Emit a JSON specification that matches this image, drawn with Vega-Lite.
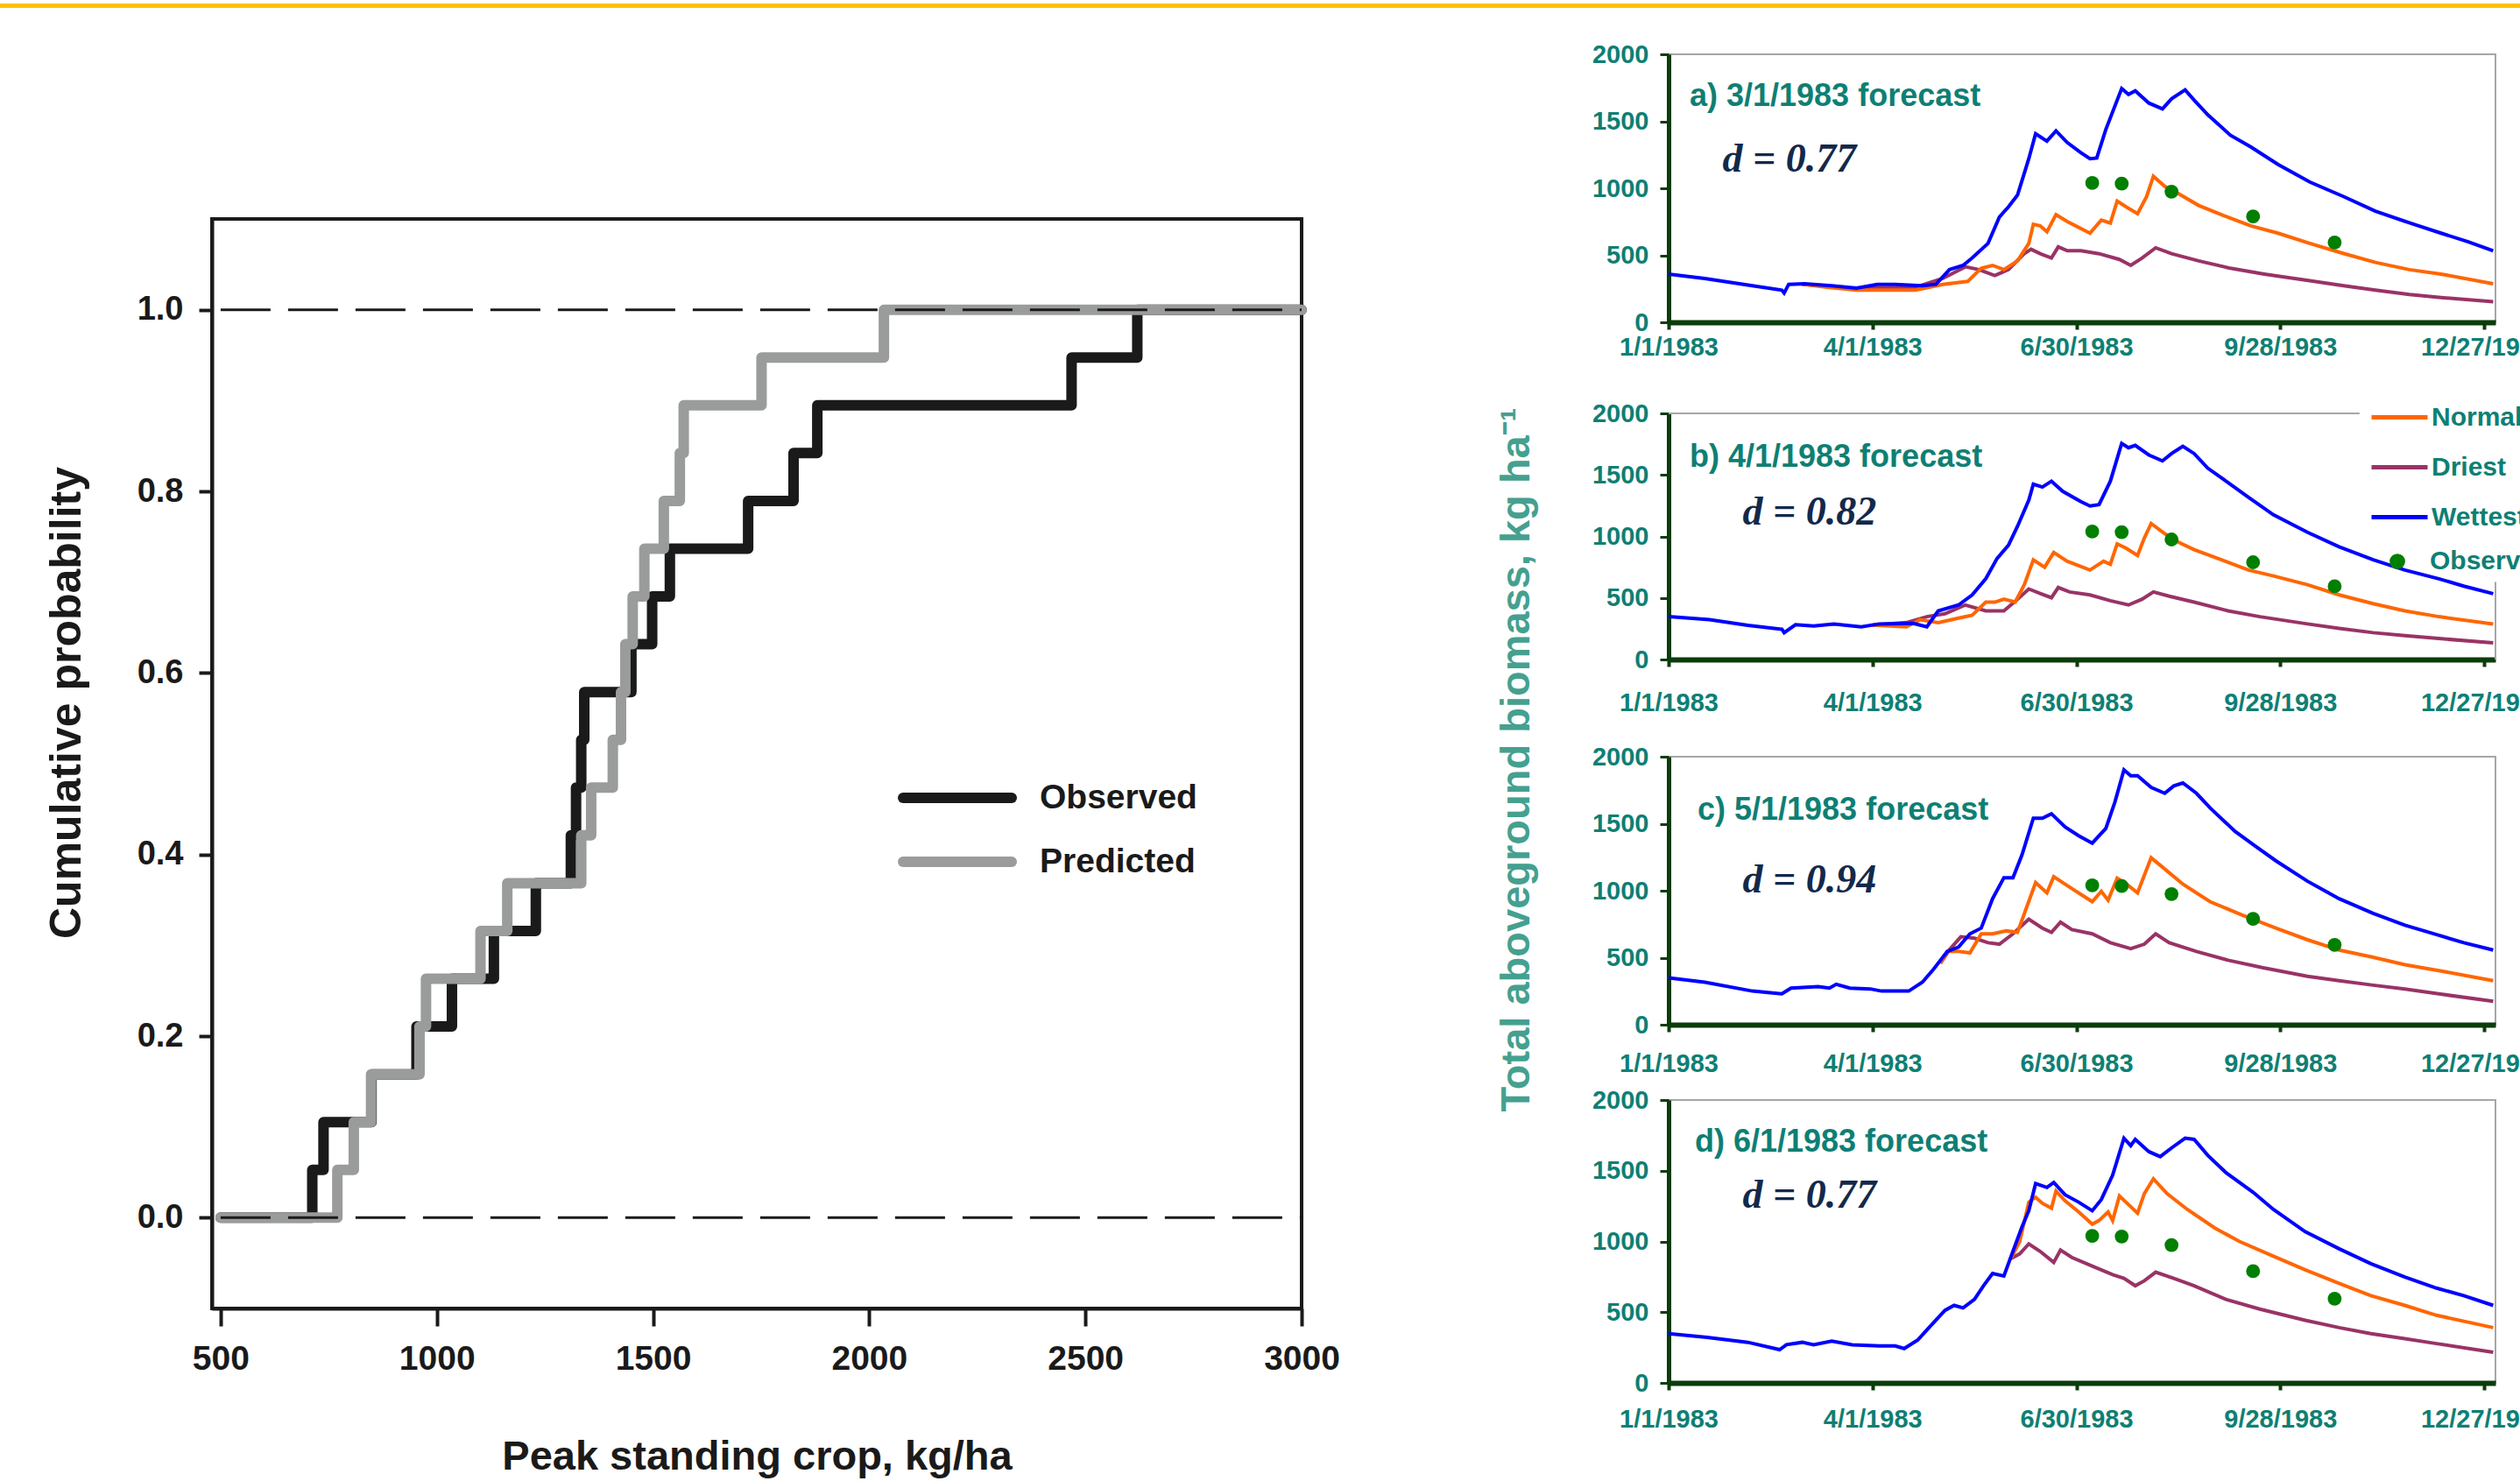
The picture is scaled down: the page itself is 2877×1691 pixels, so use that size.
{
  "$schema": "https://vega.github.io/schema/vega-lite/v6.json",
  "padding": 0,
  "background": "white",
  "config": {
    "view": {"stroke": null},
    "font": "Liberation Sans",
    "axis": {"grid": false}
  },
  "datasets": {
    "cdf": [
      {"series":"Observed","crop":500,"prob":0},
      {"series":"Observed","crop":712,"prob":0.0526},
      {"series":"Observed","crop":738,"prob":0.1053},
      {"series":"Observed","crop":849,"prob":0.1579},
      {"series":"Observed","crop":953,"prob":0.2105},
      {"series":"Observed","crop":1035,"prob":0.2632},
      {"series":"Observed","crop":1132,"prob":0.3158},
      {"series":"Observed","crop":1229,"prob":0.3684},
      {"series":"Observed","crop":1310,"prob":0.4211},
      {"series":"Observed","crop":1322,"prob":0.4737},
      {"series":"Observed","crop":1334,"prob":0.5263},
      {"series":"Observed","crop":1341,"prob":0.5789},
      {"series":"Observed","crop":1450,"prob":0.6316},
      {"series":"Observed","crop":1498,"prob":0.6842},
      {"series":"Observed","crop":1539,"prob":0.7368},
      {"series":"Observed","crop":1720,"prob":0.7895},
      {"series":"Observed","crop":1825,"prob":0.8421},
      {"series":"Observed","crop":1880,"prob":0.8947},
      {"series":"Observed","crop":2468,"prob":0.9474},
      {"series":"Observed","crop":2620,"prob":1},
      {"series":"Observed","crop":3000,"prob":1},
      {"series":"Predicted","crop":500,"prob":0},
      {"series":"Predicted","crop":770,"prob":0.0526},
      {"series":"Predicted","crop":808,"prob":0.1053},
      {"series":"Predicted","crop":848,"prob":0.1579},
      {"series":"Predicted","crop":960,"prob":0.2105},
      {"series":"Predicted","crop":975,"prob":0.2632},
      {"series":"Predicted","crop":1101,"prob":0.3158},
      {"series":"Predicted","crop":1163,"prob":0.3684},
      {"series":"Predicted","crop":1334,"prob":0.4211},
      {"series":"Predicted","crop":1357,"prob":0.4737},
      {"series":"Predicted","crop":1407,"prob":0.5263},
      {"series":"Predicted","crop":1426,"prob":0.5789},
      {"series":"Predicted","crop":1436,"prob":0.6316},
      {"series":"Predicted","crop":1453,"prob":0.6842},
      {"series":"Predicted","crop":1480,"prob":0.7368},
      {"series":"Predicted","crop":1525,"prob":0.7895},
      {"series":"Predicted","crop":1562,"prob":0.8421},
      {"series":"Predicted","crop":1571,"prob":0.8947},
      {"series":"Predicted","crop":1751,"prob":0.9474},
      {"series":"Predicted","crop":2034,"prob":1},
      {"series":"Predicted","crop":3000,"prob":1}
    ],
    "observed": [
      {"label":"Observed","day":187,"biomass":1040},
      {"label":"Observed","day":200,"biomass":1035},
      {"label":"Observed","day":222,"biomass":975},
      {"label":"Observed","day":258,"biomass":790},
      {"label":"Observed","day":294,"biomass":595}
    ],
    "curves": [
      {"panel":"a","series":"Driest","day":59,"biomass":285},
      {"panel":"a","series":"Driest","day":80,"biomass":255},
      {"panel":"a","series":"Driest","day":109,"biomass":262},
      {"panel":"a","series":"Driest","day":121,"biomass":327},
      {"panel":"a","series":"Driest","day":131,"biomass":414},
      {"panel":"a","series":"Driest","day":137,"biomass":393},
      {"panel":"a","series":"Driest","day":144,"biomass":349},
      {"panel":"a","series":"Driest","day":150,"biomass":393},
      {"panel":"a","series":"Driest","day":157,"biomass":512},
      {"panel":"a","series":"Driest","day":160,"biomass":545},
      {"panel":"a","series":"Driest","day":164,"biomass":512},
      {"panel":"a","series":"Driest","day":169,"biomass":480},
      {"panel":"a","series":"Driest","day":172,"biomass":563},
      {"panel":"a","series":"Driest","day":176,"biomass":534},
      {"panel":"a","series":"Driest","day":182,"biomass":534},
      {"panel":"a","series":"Driest","day":190,"biomass":512},
      {"panel":"a","series":"Driest","day":199,"biomass":469},
      {"panel":"a","series":"Driest","day":204,"biomass":425},
      {"panel":"a","series":"Driest","day":209,"biomass":480},
      {"panel":"a","series":"Driest","day":215,"biomass":556},
      {"panel":"a","series":"Driest","day":222,"biomass":512},
      {"panel":"a","series":"Driest","day":234,"biomass":458},
      {"panel":"a","series":"Driest","day":248,"biomass":403},
      {"panel":"a","series":"Driest","day":263,"biomass":360},
      {"panel":"a","series":"Driest","day":283,"biomass":310},
      {"panel":"a","series":"Driest","day":298,"biomass":273},
      {"panel":"a","series":"Driest","day":312,"biomass":240},
      {"panel":"a","series":"Driest","day":327,"biomass":207},
      {"panel":"a","series":"Driest","day":341,"biomass":185},
      {"panel":"a","series":"Driest","day":364,"biomass":153},
      {"panel":"a","series":"Normal","day":59,"biomass":285},
      {"panel":"a","series":"Normal","day":70,"biomass":262},
      {"panel":"a","series":"Normal","day":83,"biomass":240},
      {"panel":"a","series":"Normal","day":109,"biomass":240},
      {"panel":"a","series":"Normal","day":121,"biomass":283},
      {"panel":"a","series":"Normal","day":132,"biomass":305},
      {"panel":"a","series":"Normal","day":138,"biomass":403},
      {"panel":"a","series":"Normal","day":143,"biomass":425},
      {"panel":"a","series":"Normal","day":148,"biomass":393},
      {"panel":"a","series":"Normal","day":154,"biomass":458},
      {"panel":"a","series":"Normal","day":159,"biomass":589},
      {"panel":"a","series":"Normal","day":161,"biomass":731},
      {"panel":"a","series":"Normal","day":164,"biomass":720},
      {"panel":"a","series":"Normal","day":167,"biomass":676},
      {"panel":"a","series":"Normal","day":171,"biomass":803},
      {"panel":"a","series":"Normal","day":176,"biomass":752},
      {"panel":"a","series":"Normal","day":186,"biomass":665},
      {"panel":"a","series":"Normal","day":191,"biomass":763},
      {"panel":"a","series":"Normal","day":195,"biomass":741},
      {"panel":"a","series":"Normal","day":198,"biomass":905},
      {"panel":"a","series":"Normal","day":202,"biomass":861},
      {"panel":"a","series":"Normal","day":207,"biomass":811},
      {"panel":"a","series":"Normal","day":211,"biomass":938},
      {"panel":"a","series":"Normal","day":214,"biomass":1090},
      {"panel":"a","series":"Normal","day":219,"biomass":1014},
      {"panel":"a","series":"Normal","day":224,"biomass":970},
      {"panel":"a","series":"Normal","day":234,"biomass":872},
      {"panel":"a","series":"Normal","day":245,"biomass":796},
      {"panel":"a","series":"Normal","day":257,"biomass":720},
      {"panel":"a","series":"Normal","day":269,"biomass":665},
      {"panel":"a","series":"Normal","day":283,"biomass":589},
      {"panel":"a","series":"Normal","day":298,"biomass":513},
      {"panel":"a","series":"Normal","day":312,"biomass":447},
      {"panel":"a","series":"Normal","day":327,"biomass":393},
      {"panel":"a","series":"Normal","day":341,"biomass":360},
      {"panel":"a","series":"Normal","day":364,"biomass":288},
      {"panel":"a","series":"Wettest","day":0,"biomass":360},
      {"panel":"a","series":"Wettest","day":16,"biomass":327},
      {"panel":"a","series":"Wettest","day":37,"biomass":273},
      {"panel":"a","series":"Wettest","day":50,"biomass":240},
      {"panel":"a","series":"Wettest","day":51,"biomass":218},
      {"panel":"a","series":"Wettest","day":53,"biomass":283},
      {"panel":"a","series":"Wettest","day":60,"biomass":288},
      {"panel":"a","series":"Wettest","day":72,"biomass":273},
      {"panel":"a","series":"Wettest","day":83,"biomass":255},
      {"panel":"a","series":"Wettest","day":92,"biomass":283},
      {"panel":"a","series":"Wettest","day":100,"biomass":283},
      {"panel":"a","series":"Wettest","day":112,"biomass":273},
      {"panel":"a","series":"Wettest","day":118,"biomass":283},
      {"panel":"a","series":"Wettest","day":124,"biomass":393},
      {"panel":"a","series":"Wettest","day":130,"biomass":425},
      {"panel":"a","series":"Wettest","day":134,"biomass":480},
      {"panel":"a","series":"Wettest","day":141,"biomass":589},
      {"panel":"a","series":"Wettest","day":146,"biomass":785},
      {"panel":"a","series":"Wettest","day":150,"biomass":861},
      {"panel":"a","series":"Wettest","day":154,"biomass":949},
      {"panel":"a","series":"Wettest","day":159,"biomass":1221},
      {"panel":"a","series":"Wettest","day":162,"biomass":1407},
      {"panel":"a","series":"Wettest","day":167,"biomass":1352},
      {"panel":"a","series":"Wettest","day":171,"biomass":1429},
      {"panel":"a","series":"Wettest","day":176,"biomass":1341},
      {"panel":"a","series":"Wettest","day":182,"biomass":1265},
      {"panel":"a","series":"Wettest","day":186,"biomass":1221},
      {"panel":"a","series":"Wettest","day":189,"biomass":1226},
      {"panel":"a","series":"Wettest","day":193,"biomass":1439},
      {"panel":"a","series":"Wettest","day":200,"biomass":1745},
      {"panel":"a","series":"Wettest","day":203,"biomass":1701},
      {"panel":"a","series":"Wettest","day":206,"biomass":1727},
      {"panel":"a","series":"Wettest","day":212,"biomass":1636},
      {"panel":"a","series":"Wettest","day":218,"biomass":1592},
      {"panel":"a","series":"Wettest","day":222,"biomass":1668},
      {"panel":"a","series":"Wettest","day":228,"biomass":1734},
      {"panel":"a","series":"Wettest","day":232,"biomass":1658},
      {"panel":"a","series":"Wettest","day":238,"biomass":1549},
      {"panel":"a","series":"Wettest","day":248,"biomass":1396},
      {"panel":"a","series":"Wettest","day":257,"biomass":1309},
      {"panel":"a","series":"Wettest","day":269,"biomass":1178},
      {"panel":"a","series":"Wettest","day":283,"biomass":1047},
      {"panel":"a","series":"Wettest","day":298,"biomass":938},
      {"panel":"a","series":"Wettest","day":312,"biomass":829},
      {"panel":"a","series":"Wettest","day":327,"biomass":742},
      {"panel":"a","series":"Wettest","day":341,"biomass":665},
      {"panel":"a","series":"Wettest","day":353,"biomass":600},
      {"panel":"a","series":"Wettest","day":364,"biomass":534},
      {"panel":"b","series":"Driest","day":90,"biomass":280},
      {"panel":"b","series":"Driest","day":105,"biomass":300},
      {"panel":"b","series":"Driest","day":114,"biomass":348},
      {"panel":"b","series":"Driest","day":122,"biomass":372},
      {"panel":"b","series":"Driest","day":131,"biomass":443},
      {"panel":"b","series":"Driest","day":140,"biomass":395},
      {"panel":"b","series":"Driest","day":148,"biomass":395},
      {"panel":"b","series":"Driest","day":154,"biomass":490},
      {"panel":"b","series":"Driest","day":159,"biomass":573},
      {"panel":"b","series":"Driest","day":164,"biomass":537},
      {"panel":"b","series":"Driest","day":169,"biomass":502},
      {"panel":"b","series":"Driest","day":172,"biomass":585},
      {"panel":"b","series":"Driest","day":177,"biomass":549},
      {"panel":"b","series":"Driest","day":186,"biomass":525},
      {"panel":"b","series":"Driest","day":195,"biomass":478},
      {"panel":"b","series":"Driest","day":203,"biomass":443},
      {"panel":"b","series":"Driest","day":209,"biomass":490},
      {"panel":"b","series":"Driest","day":214,"biomass":549},
      {"panel":"b","series":"Driest","day":221,"biomass":514},
      {"panel":"b","series":"Driest","day":232,"biomass":466},
      {"panel":"b","series":"Driest","day":247,"biomass":395},
      {"panel":"b","series":"Driest","day":261,"biomass":348},
      {"panel":"b","series":"Driest","day":282,"biomass":289},
      {"panel":"b","series":"Driest","day":296,"biomass":253},
      {"panel":"b","series":"Driest","day":311,"biomass":218},
      {"panel":"b","series":"Driest","day":325,"biomass":194},
      {"panel":"b","series":"Driest","day":340,"biomass":170},
      {"panel":"b","series":"Driest","day":364,"biomass":135},
      {"panel":"b","series":"Normal","day":90,"biomass":280},
      {"panel":"b","series":"Normal","day":105,"biomass":265},
      {"panel":"b","series":"Normal","day":111,"biomass":324},
      {"panel":"b","series":"Normal","day":119,"biomass":300},
      {"panel":"b","series":"Normal","day":128,"biomass":336},
      {"panel":"b","series":"Normal","day":134,"biomass":360},
      {"panel":"b","series":"Normal","day":140,"biomass":466},
      {"panel":"b","series":"Normal","day":144,"biomass":466},
      {"panel":"b","series":"Normal","day":148,"biomass":490},
      {"panel":"b","series":"Normal","day":153,"biomass":466},
      {"panel":"b","series":"Normal","day":157,"biomass":608},
      {"panel":"b","series":"Normal","day":161,"biomass":809},
      {"panel":"b","series":"Normal","day":166,"biomass":750},
      {"panel":"b","series":"Normal","day":170,"biomass":869},
      {"panel":"b","series":"Normal","day":176,"biomass":798},
      {"panel":"b","series":"Normal","day":186,"biomass":727},
      {"panel":"b","series":"Normal","day":192,"biomass":798},
      {"panel":"b","series":"Normal","day":195,"biomass":774},
      {"panel":"b","series":"Normal","day":198,"biomass":940},
      {"panel":"b","series":"Normal","day":202,"biomass":904},
      {"panel":"b","series":"Normal","day":207,"biomass":845},
      {"panel":"b","series":"Normal","day":210,"biomass":987},
      {"panel":"b","series":"Normal","day":213,"biomass":1105},
      {"panel":"b","series":"Normal","day":219,"biomass":1023},
      {"panel":"b","series":"Normal","day":224,"biomass":963},
      {"panel":"b","series":"Normal","day":232,"biomass":892},
      {"panel":"b","series":"Normal","day":244,"biomass":810},
      {"panel":"b","series":"Normal","day":256,"biomass":727},
      {"panel":"b","series":"Normal","day":267,"biomass":679},
      {"panel":"b","series":"Normal","day":282,"biomass":608},
      {"panel":"b","series":"Normal","day":296,"biomass":525},
      {"panel":"b","series":"Normal","day":311,"biomass":454},
      {"panel":"b","series":"Normal","day":325,"biomass":395},
      {"panel":"b","series":"Normal","day":340,"biomass":348},
      {"panel":"b","series":"Normal","day":364,"biomass":289},
      {"panel":"b","series":"Wettest","day":0,"biomass":348},
      {"panel":"b","series":"Wettest","day":18,"biomass":324},
      {"panel":"b","series":"Wettest","day":35,"biomass":277},
      {"panel":"b","series":"Wettest","day":50,"biomass":246},
      {"panel":"b","series":"Wettest","day":51,"biomass":218},
      {"panel":"b","series":"Wettest","day":56,"biomass":282},
      {"panel":"b","series":"Wettest","day":64,"biomass":272},
      {"panel":"b","series":"Wettest","day":73,"biomass":289},
      {"panel":"b","series":"Wettest","day":85,"biomass":265},
      {"panel":"b","series":"Wettest","day":93,"biomass":289},
      {"panel":"b","series":"Wettest","day":108,"biomass":293},
      {"panel":"b","series":"Wettest","day":114,"biomass":265},
      {"panel":"b","series":"Wettest","day":119,"biomass":395},
      {"panel":"b","series":"Wettest","day":128,"biomass":443},
      {"panel":"b","series":"Wettest","day":134,"biomass":525},
      {"panel":"b","series":"Wettest","day":140,"biomass":656},
      {"panel":"b","series":"Wettest","day":145,"biomass":821},
      {"panel":"b","series":"Wettest","day":150,"biomass":928},
      {"panel":"b","series":"Wettest","day":154,"biomass":1082},
      {"panel":"b","series":"Wettest","day":159,"biomass":1295},
      {"panel":"b","series":"Wettest","day":161,"biomass":1425},
      {"panel":"b","series":"Wettest","day":165,"biomass":1401},
      {"panel":"b","series":"Wettest","day":169,"biomass":1449},
      {"panel":"b","series":"Wettest","day":174,"biomass":1366},
      {"panel":"b","series":"Wettest","day":182,"biomass":1283},
      {"panel":"b","series":"Wettest","day":186,"biomass":1247},
      {"panel":"b","series":"Wettest","day":190,"biomass":1259},
      {"panel":"b","series":"Wettest","day":195,"biomass":1449},
      {"panel":"b","series":"Wettest","day":200,"biomass":1756},
      {"panel":"b","series":"Wettest","day":203,"biomass":1721},
      {"panel":"b","series":"Wettest","day":206,"biomass":1740},
      {"panel":"b","series":"Wettest","day":212,"biomass":1662},
      {"panel":"b","series":"Wettest","day":218,"biomass":1614},
      {"panel":"b","series":"Wettest","day":222,"biomass":1673},
      {"panel":"b","series":"Wettest","day":227,"biomass":1733},
      {"panel":"b","series":"Wettest","day":232,"biomass":1673},
      {"panel":"b","series":"Wettest","day":238,"biomass":1555},
      {"panel":"b","series":"Wettest","day":247,"biomass":1437},
      {"panel":"b","series":"Wettest","day":256,"biomass":1318},
      {"panel":"b","series":"Wettest","day":267,"biomass":1176},
      {"panel":"b","series":"Wettest","day":282,"biomass":1034},
      {"panel":"b","series":"Wettest","day":296,"biomass":916},
      {"panel":"b","series":"Wettest","day":311,"biomass":810},
      {"panel":"b","series":"Wettest","day":325,"biomass":727},
      {"panel":"b","series":"Wettest","day":340,"biomass":656},
      {"panel":"b","series":"Wettest","day":351,"biomass":596},
      {"panel":"b","series":"Wettest","day":364,"biomass":535},
      {"panel":"c","series":"Driest","day":120,"biomass":459},
      {"panel":"c","series":"Driest","day":124,"biomass":560},
      {"panel":"c","series":"Driest","day":129,"biomass":656},
      {"panel":"c","series":"Driest","day":135,"biomass":645},
      {"panel":"c","series":"Driest","day":141,"biomass":612},
      {"panel":"c","series":"Driest","day":146,"biomass":601},
      {"panel":"c","series":"Driest","day":152,"biomass":678},
      {"panel":"c","series":"Driest","day":159,"biomass":787},
      {"panel":"c","series":"Driest","day":165,"biomass":721},
      {"panel":"c","series":"Driest","day":169,"biomass":689},
      {"panel":"c","series":"Driest","day":173,"biomass":765},
      {"panel":"c","series":"Driest","day":178,"biomass":710},
      {"panel":"c","series":"Driest","day":187,"biomass":678},
      {"panel":"c","series":"Driest","day":195,"biomass":612},
      {"panel":"c","series":"Driest","day":204,"biomass":568},
      {"panel":"c","series":"Driest","day":210,"biomass":601},
      {"panel":"c","series":"Driest","day":215,"biomass":678},
      {"panel":"c","series":"Driest","day":221,"biomass":612},
      {"panel":"c","series":"Driest","day":233,"biomass":547},
      {"panel":"c","series":"Driest","day":247,"biomass":481},
      {"panel":"c","series":"Driest","day":262,"biomass":426},
      {"panel":"c","series":"Driest","day":282,"biomass":361},
      {"panel":"c","series":"Driest","day":296,"biomass":328},
      {"panel":"c","series":"Driest","day":311,"biomass":295},
      {"panel":"c","series":"Driest","day":325,"biomass":267},
      {"panel":"c","series":"Driest","day":340,"biomass":230},
      {"panel":"c","series":"Driest","day":364,"biomass":175},
      {"panel":"c","series":"Normal","day":120,"biomass":459},
      {"panel":"c","series":"Normal","day":123,"biomass":547},
      {"panel":"c","series":"Normal","day":128,"biomass":547},
      {"panel":"c","series":"Normal","day":133,"biomass":536},
      {"panel":"c","series":"Normal","day":138,"biomass":678},
      {"panel":"c","series":"Normal","day":143,"biomass":678},
      {"panel":"c","series":"Normal","day":149,"biomass":700},
      {"panel":"c","series":"Normal","day":154,"biomass":689},
      {"panel":"c","series":"Normal","day":158,"biomass":874},
      {"panel":"c","series":"Normal","day":162,"biomass":1060},
      {"panel":"c","series":"Normal","day":167,"biomass":984},
      {"panel":"c","series":"Normal","day":170,"biomass":1104},
      {"panel":"c","series":"Normal","day":177,"biomass":1027},
      {"panel":"c","series":"Normal","day":187,"biomass":918},
      {"panel":"c","series":"Normal","day":191,"biomass":995},
      {"panel":"c","series":"Normal","day":194,"biomass":929},
      {"panel":"c","series":"Normal","day":198,"biomass":1093},
      {"panel":"c","series":"Normal","day":203,"biomass":1038},
      {"panel":"c","series":"Normal","day":207,"biomass":984},
      {"panel":"c","series":"Normal","day":213,"biomass":1246},
      {"panel":"c","series":"Normal","day":220,"biomass":1148},
      {"panel":"c","series":"Normal","day":227,"biomass":1049},
      {"panel":"c","series":"Normal","day":239,"biomass":918},
      {"panel":"c","series":"Normal","day":253,"biomass":820},
      {"panel":"c","series":"Normal","day":268,"biomass":721},
      {"panel":"c","series":"Normal","day":282,"biomass":634},
      {"panel":"c","series":"Normal","day":296,"biomass":557},
      {"panel":"c","series":"Normal","day":311,"biomass":503},
      {"panel":"c","series":"Normal","day":325,"biomass":448},
      {"panel":"c","series":"Normal","day":340,"biomass":404},
      {"panel":"c","series":"Normal","day":364,"biomass":328},
      {"panel":"c","series":"Wettest","day":0,"biomass":350},
      {"panel":"c","series":"Wettest","day":16,"biomass":317},
      {"panel":"c","series":"Wettest","day":37,"biomass":251},
      {"panel":"c","series":"Wettest","day":50,"biomass":230},
      {"panel":"c","series":"Wettest","day":54,"biomass":273},
      {"panel":"c","series":"Wettest","day":66,"biomass":284},
      {"panel":"c","series":"Wettest","day":71,"biomass":273},
      {"panel":"c","series":"Wettest","day":74,"biomass":302},
      {"panel":"c","series":"Wettest","day":80,"biomass":273},
      {"panel":"c","series":"Wettest","day":89,"biomass":267},
      {"panel":"c","series":"Wettest","day":94,"biomass":251},
      {"panel":"c","series":"Wettest","day":106,"biomass":251},
      {"panel":"c","series":"Wettest","day":112,"biomass":317},
      {"panel":"c","series":"Wettest","day":117,"biomass":415},
      {"panel":"c","series":"Wettest","day":123,"biomass":547},
      {"panel":"c","series":"Wettest","day":128,"biomass":579},
      {"panel":"c","series":"Wettest","day":133,"biomass":678},
      {"panel":"c","series":"Wettest","day":138,"biomass":721},
      {"panel":"c","series":"Wettest","day":143,"biomass":940},
      {"panel":"c","series":"Wettest","day":148,"biomass":1097},
      {"panel":"c","series":"Wettest","day":152,"biomass":1097},
      {"panel":"c","series":"Wettest","day":156,"biomass":1268},
      {"panel":"c","series":"Wettest","day":161,"biomass":1541},
      {"panel":"c","series":"Wettest","day":165,"biomass":1541},
      {"panel":"c","series":"Wettest","day":169,"biomass":1574},
      {"panel":"c","series":"Wettest","day":175,"biomass":1476},
      {"panel":"c","series":"Wettest","day":181,"biomass":1410},
      {"panel":"c","series":"Wettest","day":187,"biomass":1355},
      {"panel":"c","series":"Wettest","day":193,"biomass":1465},
      {"panel":"c","series":"Wettest","day":197,"biomass":1661},
      {"panel":"c","series":"Wettest","day":201,"biomass":1902},
      {"panel":"c","series":"Wettest","day":204,"biomass":1858},
      {"panel":"c","series":"Wettest","day":207,"biomass":1858},
      {"panel":"c","series":"Wettest","day":213,"biomass":1771},
      {"panel":"c","series":"Wettest","day":219,"biomass":1727},
      {"panel":"c","series":"Wettest","day":223,"biomass":1782},
      {"panel":"c","series":"Wettest","day":227,"biomass":1804},
      {"panel":"c","series":"Wettest","day":233,"biomass":1727},
      {"panel":"c","series":"Wettest","day":239,"biomass":1618},
      {"panel":"c","series":"Wettest","day":250,"biomass":1443},
      {"panel":"c","series":"Wettest","day":259,"biomass":1333},
      {"panel":"c","series":"Wettest","day":268,"biomass":1224},
      {"panel":"c","series":"Wettest","day":282,"biomass":1071},
      {"panel":"c","series":"Wettest","day":296,"biomass":940},
      {"panel":"c","series":"Wettest","day":311,"biomass":831},
      {"panel":"c","series":"Wettest","day":325,"biomass":743},
      {"panel":"c","series":"Wettest","day":340,"biomass":667},
      {"panel":"c","series":"Wettest","day":351,"biomass":612},
      {"panel":"c","series":"Wettest","day":364,"biomass":557},
      {"panel":"d","series":"Driest","day":151,"biomass":878},
      {"panel":"d","series":"Driest","day":155,"biomass":913},
      {"panel":"d","series":"Driest","day":159,"biomass":983},
      {"panel":"d","series":"Driest","day":164,"biomass":930},
      {"panel":"d","series":"Driest","day":170,"biomass":852},
      {"panel":"d","series":"Driest","day":173,"biomass":939},
      {"panel":"d","series":"Driest","day":178,"biomass":887},
      {"panel":"d","series":"Driest","day":187,"biomass":826},
      {"panel":"d","series":"Driest","day":196,"biomass":765},
      {"panel":"d","series":"Driest","day":201,"biomass":739},
      {"panel":"d","series":"Driest","day":206,"biomass":687},
      {"panel":"d","series":"Driest","day":210,"biomass":722},
      {"panel":"d","series":"Driest","day":215,"biomass":783},
      {"panel":"d","series":"Driest","day":223,"biomass":739},
      {"panel":"d","series":"Driest","day":232,"biomass":687},
      {"panel":"d","series":"Driest","day":246,"biomass":591},
      {"panel":"d","series":"Driest","day":261,"biomass":522},
      {"panel":"d","series":"Driest","day":281,"biomass":443},
      {"panel":"d","series":"Driest","day":296,"biomass":391},
      {"panel":"d","series":"Driest","day":310,"biomass":348},
      {"panel":"d","series":"Driest","day":325,"biomass":313},
      {"panel":"d","series":"Driest","day":339,"biomass":278},
      {"panel":"d","series":"Driest","day":364,"biomass":217},
      {"panel":"d","series":"Normal","day":151,"biomass":878},
      {"panel":"d","series":"Normal","day":155,"biomass":1000},
      {"panel":"d","series":"Normal","day":159,"biomass":1278},
      {"panel":"d","series":"Normal","day":162,"biomass":1313},
      {"panel":"d","series":"Normal","day":165,"biomass":1270},
      {"panel":"d","series":"Normal","day":169,"biomass":1235},
      {"panel":"d","series":"Normal","day":171,"biomass":1356},
      {"panel":"d","series":"Normal","day":175,"biomass":1287},
      {"panel":"d","series":"Normal","day":181,"biomass":1209},
      {"panel":"d","series":"Normal","day":187,"biomass":1122},
      {"panel":"d","series":"Normal","day":190,"biomass":1148},
      {"panel":"d","series":"Normal","day":194,"biomass":1209},
      {"panel":"d","series":"Normal","day":196,"biomass":1148},
      {"panel":"d","series":"Normal","day":199,"biomass":1322},
      {"panel":"d","series":"Normal","day":203,"biomass":1261},
      {"panel":"d","series":"Normal","day":207,"biomass":1200},
      {"panel":"d","series":"Normal","day":210,"biomass":1339},
      {"panel":"d","series":"Normal","day":214,"biomass":1443},
      {"panel":"d","series":"Normal","day":220,"biomass":1339},
      {"panel":"d","series":"Normal","day":229,"biomass":1226},
      {"panel":"d","series":"Normal","day":241,"biomass":1096},
      {"panel":"d","series":"Normal","day":252,"biomass":1000},
      {"panel":"d","series":"Normal","day":267,"biomass":896},
      {"panel":"d","series":"Normal","day":281,"biomass":800},
      {"panel":"d","series":"Normal","day":296,"biomass":704},
      {"panel":"d","series":"Normal","day":310,"biomass":617},
      {"panel":"d","series":"Normal","day":325,"biomass":548},
      {"panel":"d","series":"Normal","day":339,"biomass":478},
      {"panel":"d","series":"Normal","day":364,"biomass":391},
      {"panel":"d","series":"Wettest","day":0,"biomass":348},
      {"panel":"d","series":"Wettest","day":17,"biomass":322},
      {"panel":"d","series":"Wettest","day":35,"biomass":287},
      {"panel":"d","series":"Wettest","day":49,"biomass":235},
      {"panel":"d","series":"Wettest","day":52,"biomass":270},
      {"panel":"d","series":"Wettest","day":59,"biomass":287},
      {"panel":"d","series":"Wettest","day":64,"biomass":270},
      {"panel":"d","series":"Wettest","day":72,"biomass":296},
      {"panel":"d","series":"Wettest","day":81,"biomass":270},
      {"panel":"d","series":"Wettest","day":93,"biomass":261},
      {"panel":"d","series":"Wettest","day":100,"biomass":261},
      {"panel":"d","series":"Wettest","day":104,"biomass":243},
      {"panel":"d","series":"Wettest","day":110,"biomass":304},
      {"panel":"d","series":"Wettest","day":116,"biomass":409},
      {"panel":"d","series":"Wettest","day":122,"biomass":513},
      {"panel":"d","series":"Wettest","day":126,"biomass":548},
      {"panel":"d","series":"Wettest","day":130,"biomass":530},
      {"panel":"d","series":"Wettest","day":135,"biomass":591},
      {"panel":"d","series":"Wettest","day":139,"biomass":687},
      {"panel":"d","series":"Wettest","day":143,"biomass":774},
      {"panel":"d","series":"Wettest","day":148,"biomass":756},
      {"panel":"d","series":"Wettest","day":152,"biomass":930},
      {"panel":"d","series":"Wettest","day":156,"biomass":1104},
      {"panel":"d","series":"Wettest","day":159,"biomass":1217},
      {"panel":"d","series":"Wettest","day":162,"biomass":1409},
      {"panel":"d","series":"Wettest","day":167,"biomass":1382},
      {"panel":"d","series":"Wettest","day":170,"biomass":1417},
      {"panel":"d","series":"Wettest","day":175,"biomass":1330},
      {"panel":"d","series":"Wettest","day":181,"biomass":1278},
      {"panel":"d","series":"Wettest","day":187,"biomass":1217},
      {"panel":"d","series":"Wettest","day":191,"biomass":1296},
      {"panel":"d","series":"Wettest","day":196,"biomass":1469},
      {"panel":"d","series":"Wettest","day":201,"biomass":1730},
      {"panel":"d","series":"Wettest","day":204,"biomass":1678},
      {"panel":"d","series":"Wettest","day":206,"biomass":1722},
      {"panel":"d","series":"Wettest","day":212,"biomass":1635},
      {"panel":"d","series":"Wettest","day":217,"biomass":1600},
      {"panel":"d","series":"Wettest","day":222,"biomass":1661},
      {"panel":"d","series":"Wettest","day":228,"biomass":1730},
      {"panel":"d","series":"Wettest","day":232,"biomass":1722},
      {"panel":"d","series":"Wettest","day":238,"biomass":1609},
      {"panel":"d","series":"Wettest","day":246,"biomass":1487},
      {"panel":"d","series":"Wettest","day":258,"biomass":1348},
      {"panel":"d","series":"Wettest","day":267,"biomass":1226},
      {"panel":"d","series":"Wettest","day":281,"biomass":1069},
      {"panel":"d","series":"Wettest","day":296,"biomass":948},
      {"panel":"d","series":"Wettest","day":310,"biomass":843},
      {"panel":"d","series":"Wettest","day":325,"biomass":748},
      {"panel":"d","series":"Wettest","day":339,"biomass":670},
      {"panel":"d","series":"Wettest","day":351,"biomass":617},
      {"panel":"d","series":"Wettest","day":364,"biomass":548}
    ]
  },
  "spacing": 35,
  "resolve": {"scale": {"color": "independent", "shape": "independent"}, "legend": {"color": "independent", "shape": "independent"}},
  "vconcat": [
    {
      "width": 2877,
      "height": 5,
      "view": {"fill": "#FFC000", "stroke": null},
      "data": {"values": [{}]},
      "mark": {"type": "text", "text": ""}
    },
    {
      "columns": 3,
      "align": "each",
      "spacing": 20,
      "resolve": {"scale": {"color": "independent", "shape": "independent"}, "legend": {"color": "independent", "shape": "independent"}},
      "concat": [
        {
          "width": 29,
          "height": 10,
          "view": {"fill": "#ffffff", "stroke": null},
          "data": {"values": [{}]},
          "mark": {"type": "text", "text": ""}
        },
        {
          "spacing": 0,
          "resolve": {"scale": {"color": "independent", "shape": "independent"}, "legend": {"color": "independent", "shape": "independent"}},
          "vconcat": [
            {
              "width": 1446,
              "height": 186,
              "view": {"fill": "#ffffff", "stroke": null},
              "data": {"values": [{}]},
              "mark": {"type": "text", "text": ""}
            },
            {
              "width": 1244,
              "height": 1244,
              "view": {"stroke": "#1a1a1a", "strokeWidth": 4},
              "layer": [
                {
                  "data": {"name": "cdf"},
                  "mark": {"type": "line", "interpolate": "step-after", "strokeWidth": 12, "strokeCap": "round", "strokeJoin": "round"},
                  "encoding": {
                    "x": {
                      "field": "crop", "type": "quantitative",
                      "scale": {"domain": [480, 3000], "nice": false, "zero": false},
                      "axis": {
                        "title": "Peak standing crop, kg/ha",
                        "values": [500, 1000, 1500, 2000, 2500, 3000],
                        "format": "d",
                        "domainColor": "#1a1a1a", "domainWidth": 4,
                        "tickColor": "#1a1a1a", "tickWidth": 4, "tickSize": 20,
                        "labelFont": "Liberation Sans", "labelFontSize": 39, "labelFontWeight": "bold", "labelColor": "#1a1a1a",
                        "labelPadding": 18, "labelFlush": false,
                        "titleFont": "Liberation Sans", "titleFontSize": 47, "titleFontWeight": "bold", "titleColor": "#1a1a1a",
                        "titlePadding": 69
                      }
                    },
                    "y": {
                      "field": "prob", "type": "quantitative",
                      "scale": {"domain": [-0.1, 1.1], "nice": false, "zero": false},
                      "axis": {
                        "title": "Cumulative probability",
                        "titleY": 552,
                        "values": [0, 0.2, 0.4, 0.6, 0.8, 1],
                        "format": ".1f",
                        "domainColor": "#1a1a1a", "domainWidth": 4,
                        "tickColor": "#1a1a1a", "tickWidth": 4, "tickSize": 15,
                        "labelFont": "Liberation Sans", "labelFontSize": 38, "labelFontWeight": "bold", "labelColor": "#1a1a1a",
                        "labelPadding": 18,
                        "titleFont": "Liberation Sans", "titleFontSize": 50, "titleFontWeight": "bold", "titleColor": "#1a1a1a",
                        "titlePadding": 55
                      }
                    },
                    "color": {
                      "field": "series", "type": "nominal",
                      "scale": {"domain": ["Observed", "Predicted"], "range": ["#1a1a1a", "#9a9c9b"]},
                      "legend": {
                        "title": null, "orient": "none", "legendX": 814, "legendY": 624,
                        "symbolType": "M-2,0H2", "symbolSize": 3844, "symbolStrokeWidth": 12,
                        "labelFont": "Liberation Sans", "labelFontSize": 39, "labelFontWeight": "bold", "labelColor": "#1a1a1a",
                        "labelOffset": 57, "rowPadding": 12, "labelLimit": 1000,
                        "encode": {"symbols": {"update": {"strokeCap": {"value": "round"}, "fill": {"value": "transparent"}}}}
                      }
                    }
                  }
                },
                {
                  "data": {"values": [{"prob": 0}, {"prob": 1}]},
                  "mark": {"type": "rule", "strokeDash": [57, 20], "strokeWidth": 3, "color": "#1a1a1a"},
                  "encoding": {
                    "y": {"field": "prob", "type": "quantitative"},
                    "x": {"datum": 500},
                    "x2": {"datum": 3000}
                  }
                }
              ]
            }
          ]
        },
        {
          "title": {"text": "Total aboveground biomass, kg ha\u207b\u00b9", "orient": "left", "anchor": "middle", "font": "Liberation Sans", "fontSize": 47, "fontWeight": "bold", "color": "#45a08f", "offset": 60, "dx": -26},
          "spacing": 32,
          "resolve": {"scale": {"color": "independent", "shape": "independent"}, "legend": {"color": "independent", "shape": "independent"}},
          "vconcat": [
            {
              "bounds": "flush",
              "spacing": 104,
              "resolve": {"scale": {"color": "independent", "shape": "independent"}, "legend": {"color": "independent", "shape": "independent"}},
              "vconcat": [
                {
                  "width": 944,
                  "height": 306,
                  "view": {"stroke": "#a6a6a6", "strokeWidth": 2},
                  "title": {"text": "a) 3/1/1983 forecast", "anchor": "start", "frame": "group", "offset": -81, "dx": 24, "font": "Liberation Sans", "fontSize": 36, "fontWeight": "bold", "color": "#0e7f74"},
                  "layer": [
                    {
                      "data": {"name": "curves"},
                      "transform": [{"filter": "datum.panel === 'a'"}],
                      "mark": {"type": "line", "strokeWidth": 4},
                      "encoding": {
                        "x": {"field": "day", "type": "quantitative", "scale": {"domain": [0, 365], "nice": false, "zero": false},
                          "axis": {"title": "d = 0.77", "titleX": 61, "titleY": -187, "titleAlign": "left", "titleBaseline": "middle", "titleFont": "Liberation Serif", "titleFontSize": 46, "titleFontStyle": "italic", "titleFontWeight": "bold", "titleColor": "#13294b",
                            "values": [0, 90, 180, 270, 360], "labelExpr": "datum.value == 0 ? '1/1/1983' : datum.value == 90 ? '4/1/1983' : datum.value == 180 ? '6/30/1983' : datum.value == 270 ? '9/28/1983' : '12/27/1983'", "domainColor": "#0b3d0b", "domainWidth": 6, "tickColor": "#0b3d0b", "tickWidth": 4, "tickSize": 8, "labelFont": "Liberation Sans", "labelFontSize": 29, "labelFontWeight": "bold", "labelColor": "#0e7f74", "labelPadding": 6, "labelFlush": false, "labelOverlap": false}},
                        "y": {"field": "biomass", "type": "quantitative", "scale": {"domain": [0, 2000], "nice": false},
                          "axis": {"title": null, "values": [0, 500, 1000, 1500, 2000], "format": "d", "domainColor": "#0b3d0b", "domainWidth": 5, "tickColor": "#0b3d0b", "tickWidth": 3, "tickSize": 10, "labelFont": "Liberation Sans", "labelFontSize": 29, "labelFontWeight": "bold", "labelColor": "#0e7f74", "labelPadding": 13}},
                        "color": {"field": "series", "type": "nominal", "scale": {"domain": ["Normal", "Driest", "Wettest"], "range": ["#ff6600", "#993366", "#0000ff"]}, "legend": null}
                      }
                    },
                    {
                      "data": {"name": "observed"},
                      "mark": {"type": "point", "filled": true, "size": 250, "color": "#007f00", "opacity": 1},
                      "encoding": {
                        "x": {"field": "day", "type": "quantitative"},
                        "y": {"field": "biomass", "type": "quantitative"}
                      }
                    }
                  ]
                },
                {
                  "width": 944,
                  "height": 281,
                  "title": {"text": "b) 4/1/1983 forecast", "anchor": "start", "frame": "group", "offset": -83, "dx": 24, "font": "Liberation Sans", "fontSize": 36, "fontWeight": "bold", "color": "#0e7f74"},
                  "layer": [
                    {
                      "data": {"values": [{}]},
                      "mark": {"type": "rule", "color": "#a6a6a6", "strokeWidth": 2},
                      "encoding": {"x": {"datum": 0, "type": "quantitative"}, "x2": {"datum": 305}, "y": {"datum": 2000, "type": "quantitative"}}
                    },
                    {
                      "data": {"values": [{}]},
                      "mark": {"type": "rule", "color": "#a6a6a6", "strokeWidth": 2},
                      "encoding": {"x": {"datum": 365, "type": "quantitative"}, "y": {"datum": 0, "type": "quantitative"}, "y2": {"datum": 630}}
                    },
                    {
                      "data": {"name": "curves"},
                      "transform": [{"filter": "datum.panel === 'b'"}],
                      "mark": {"type": "line", "strokeWidth": 4},
                      "encoding": {
                        "x": {"field": "day", "type": "quantitative", "scale": {"domain": [0, 365], "nice": false, "zero": false},
                          "axis": {"title": "d = 0.82", "titleX": 84, "titleY": -169, "titleAlign": "left", "titleBaseline": "middle", "titleFont": "Liberation Serif", "titleFontSize": 46, "titleFontStyle": "italic", "titleFontWeight": "bold", "titleColor": "#13294b",
                            "values": [0, 90, 180, 270, 360], "labelExpr": "datum.value == 0 ? '1/1/1983' : datum.value == 90 ? '4/1/1983' : datum.value == 180 ? '6/30/1983' : datum.value == 270 ? '9/28/1983' : '12/27/1983'", "domainColor": "#0b3d0b", "domainWidth": 6, "tickColor": "#0b3d0b", "tickWidth": 4, "tickSize": 8, "labelFont": "Liberation Sans", "labelFontSize": 29, "labelFontWeight": "bold", "labelColor": "#0e7f74", "labelPadding": 27, "labelFlush": false, "labelOverlap": false}},
                        "y": {"field": "biomass", "type": "quantitative", "scale": {"domain": [0, 2000], "nice": false},
                          "axis": {"title": null, "values": [0, 500, 1000, 1500, 2000], "format": "d", "domainColor": "#0b3d0b", "domainWidth": 5, "tickColor": "#0b3d0b", "tickWidth": 3, "tickSize": 10, "labelFont": "Liberation Sans", "labelFontSize": 29, "labelFontWeight": "bold", "labelColor": "#0e7f74", "labelPadding": 13}},
                        "color": {"field": "series", "type": "nominal", "scale": {"domain": ["Normal", "Driest", "Wettest"], "range": ["#ff6600", "#993366", "#0000ff"]},
                          "legend": {"title": null, "orient": "none", "legendX": 816, "legendY": -14, "symbolType": "M-2,0H2", "symbolSize": 1024, "symbolStrokeWidth": 5, "labelFont": "Liberation Sans", "labelFontSize": 30, "labelFontWeight": "bold", "labelColor": "#0e7f74", "labelOffset": 18, "rowPadding": 23, "encode": {"symbols": {"update": {"fill": {"value": "transparent"}}}}}}
                      }
                    },
                    {
                      "data": {"name": "observed"},
                      "mark": {"type": "point", "filled": true, "size": 250, "color": "#007f00", "opacity": 1},
                      "encoding": {
                        "x": {"field": "day", "type": "quantitative"},
                        "y": {"field": "biomass", "type": "quantitative"},
                        "shape": {"field": "label", "type": "nominal", "scale": {"domain": ["Observed"], "range": ["circle"]},
                          "legend": {"title": null, "orient": "none", "legendX": 817, "legendY": 154, "symbolSize": 314, "symbolFillColor": "#007f00", "symbolStrokeColor": "#007f00", "labelFont": "Liberation Sans", "labelFontSize": 30, "labelFontWeight": "bold", "labelColor": "#0e7f74", "labelOffset": 22}}
                      }
                    }
                  ]
                }
              ]
            },
            {
              "bounds": "flush",
              "spacing": 86,
              "resolve": {"scale": {"color": "independent", "shape": "independent"}, "legend": {"color": "independent", "shape": "independent"}},
              "vconcat": [
                {
                  "width": 944,
                  "height": 306,
                  "view": {"stroke": "#a6a6a6", "strokeWidth": 2},
                  "title": {"text": "c) 5/1/1983 forecast", "anchor": "start", "frame": "group", "offset": -94, "dx": 33, "font": "Liberation Sans", "fontSize": 36, "fontWeight": "bold", "color": "#0e7f74"},
                  "layer": [
                    {
                      "data": {"name": "curves"},
                      "transform": [{"filter": "datum.panel === 'c'"}],
                      "mark": {"type": "line", "strokeWidth": 4},
                      "encoding": {
                        "x": {"field": "day", "type": "quantitative", "scale": {"domain": [0, 365], "nice": false, "zero": false},
                          "axis": {"title": "d = 0.94", "titleX": 84, "titleY": -166, "titleAlign": "left", "titleBaseline": "middle", "titleFont": "Liberation Serif", "titleFontSize": 46, "titleFontStyle": "italic", "titleFontWeight": "bold", "titleColor": "#13294b",
                            "values": [0, 90, 180, 270, 360], "labelExpr": "datum.value == 0 ? '1/1/1983' : datum.value == 90 ? '4/1/1983' : datum.value == 180 ? '6/30/1983' : datum.value == 270 ? '9/28/1983' : '12/27/1983'", "domainColor": "#0b3d0b", "domainWidth": 6, "tickColor": "#0b3d0b", "tickWidth": 4, "tickSize": 8, "labelFont": "Liberation Sans", "labelFontSize": 29, "labelFontWeight": "bold", "labelColor": "#0e7f74", "labelPadding": 22, "labelFlush": false, "labelOverlap": false}},
                        "y": {"field": "biomass", "type": "quantitative", "scale": {"domain": [0, 2000], "nice": false},
                          "axis": {"title": null, "values": [0, 500, 1000, 1500, 2000], "format": "d", "domainColor": "#0b3d0b", "domainWidth": 5, "tickColor": "#0b3d0b", "tickWidth": 3, "tickSize": 10, "labelFont": "Liberation Sans", "labelFontSize": 29, "labelFontWeight": "bold", "labelColor": "#0e7f74", "labelPadding": 13}},
                        "color": {"field": "series", "type": "nominal", "scale": {"domain": ["Normal", "Driest", "Wettest"], "range": ["#ff6600", "#993366", "#0000ff"]}, "legend": null}
                      }
                    },
                    {
                      "data": {"name": "observed"},
                      "mark": {"type": "point", "filled": true, "size": 250, "color": "#007f00", "opacity": 1},
                      "encoding": {
                        "x": {"field": "day", "type": "quantitative"},
                        "y": {"field": "biomass", "type": "quantitative"}
                      }
                    }
                  ]
                },
                {
                  "width": 944,
                  "height": 323,
                  "view": {"stroke": "#a6a6a6", "strokeWidth": 2},
                  "title": {"text": "d) 6/1/1983 forecast", "anchor": "start", "frame": "group", "offset": -81, "dx": 30, "font": "Liberation Sans", "fontSize": 36, "fontWeight": "bold", "color": "#0e7f74"},
                  "layer": [
                    {
                      "data": {"name": "curves"},
                      "transform": [{"filter": "datum.panel === 'd'"}],
                      "mark": {"type": "line", "strokeWidth": 4},
                      "encoding": {
                        "x": {"field": "day", "type": "quantitative", "scale": {"domain": [0, 365], "nice": false, "zero": false},
                          "axis": {"title": "d = 0.77", "titleX": 84, "titleY": -215, "titleAlign": "left", "titleBaseline": "middle", "titleFont": "Liberation Serif", "titleFontSize": 46, "titleFontStyle": "italic", "titleFontWeight": "bold", "titleColor": "#13294b",
                            "values": [0, 90, 180, 270, 360], "labelExpr": "datum.value == 0 ? '1/1/1983' : datum.value == 90 ? '4/1/1983' : datum.value == 180 ? '6/30/1983' : datum.value == 270 ? '9/28/1983' : '12/27/1983'", "domainColor": "#0b3d0b", "domainWidth": 6, "tickColor": "#0b3d0b", "tickWidth": 4, "tickSize": 8, "labelFont": "Liberation Sans", "labelFontSize": 29, "labelFontWeight": "bold", "labelColor": "#0e7f74", "labelPadding": 19, "labelFlush": false, "labelOverlap": false}},
                        "y": {"field": "biomass", "type": "quantitative", "scale": {"domain": [0, 2000], "nice": false},
                          "axis": {"title": null, "values": [0, 500, 1000, 1500, 2000], "format": "d", "domainColor": "#0b3d0b", "domainWidth": 5, "tickColor": "#0b3d0b", "tickWidth": 3, "tickSize": 10, "labelFont": "Liberation Sans", "labelFontSize": 29, "labelFontWeight": "bold", "labelColor": "#0e7f74", "labelPadding": 13}},
                        "color": {"field": "series", "type": "nominal", "scale": {"domain": ["Normal", "Driest", "Wettest"], "range": ["#ff6600", "#993366", "#0000ff"]}, "legend": null}
                      }
                    },
                    {
                      "data": {"name": "observed"},
                      "mark": {"type": "point", "filled": true, "size": 250, "color": "#007f00", "opacity": 1},
                      "encoding": {
                        "x": {"field": "day", "type": "quantitative"},
                        "y": {"field": "biomass", "type": "quantitative"}
                      }
                    }
                  ]
                }
              ]
            }
          ]
        }
      ]
    }
  ]
}
